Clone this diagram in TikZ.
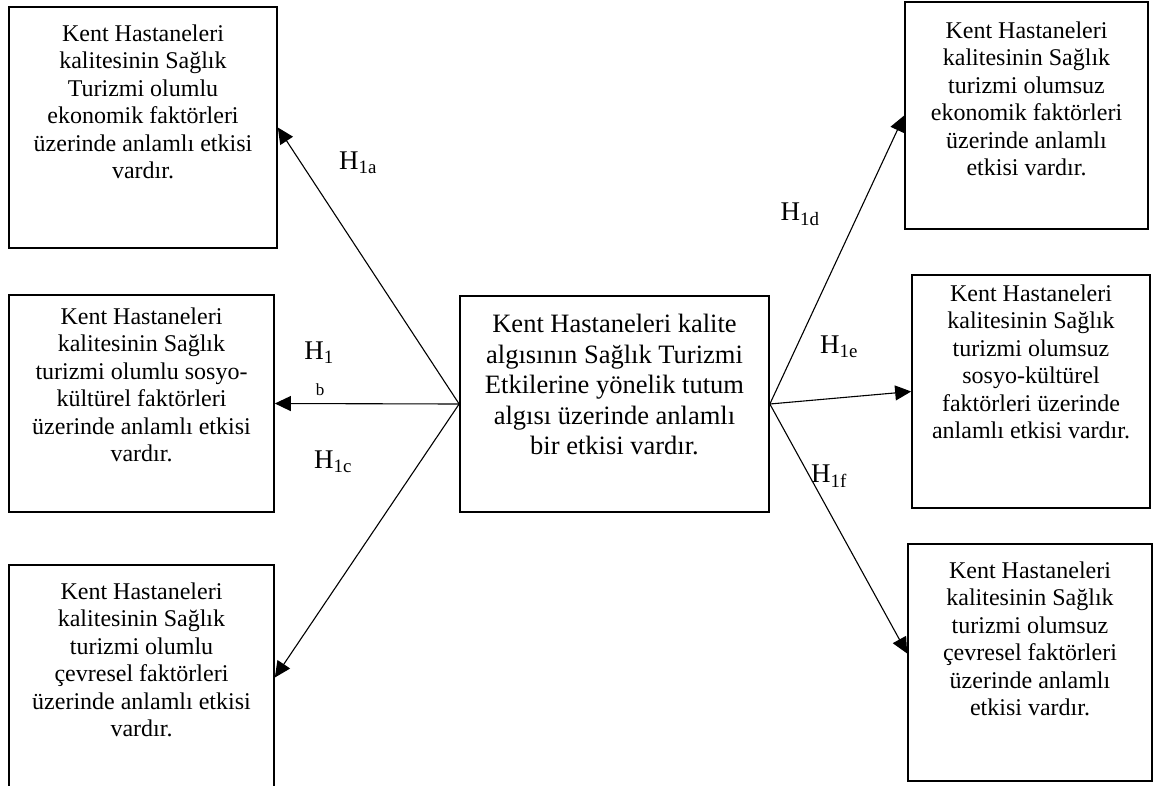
\documentclass[tikz,border=0pt]{standalone}
\usepackage{fontspec}
\setmainfont{Liberation Serif}
\usetikzlibrary{positioning, arrows.meta}

\begin{document}
\begin{tikzpicture}[
  x=1pt, y=-1pt,
  hyp/.style={draw, rectangle, line width=1.7pt, inner sep=0pt},
  txt/.style={anchor=north, align=center, inner sep=0pt,
    font=\fontsize{24}{27.5}\selectfont},
  lbl/.style={font=\fontsize{27}{30}\selectfont, inner sep=0pt},
  arr/.style={-{Triangle[length=16pt, width=15pt]}, line width=1.1pt},
]
  \useasboundingbox (0,0) rectangle (1154,785);
  \clip (0,0) rectangle (1154,785);

  % Centre: main hypothesis
  \node[hyp, minimum width=309pt, minimum height=216pt] (main) at (614.5,404) {};
  \node[txt, font=\fontsize{26.5}{30.5}\selectfont] (maintxt)
    at ([yshift=-19pt]main.north) {Kent Hastaneleri kalite \\ algısının Sağlık Turizmi \\
    Etkilerine yönelik tutum \\ algısı üzerinde anlamlı \\ bir etkisi vardır.};

  % Left column: olumlu etkiler
  \node[hyp, minimum width=268pt, minimum height=241pt] (l1) at (143,127.5) {};
  \node[txt] (l1txt) at ([yshift=-18pt]l1.north) {Kent Hastaneleri \\ kalitesinin Sağlık \\
    Turizmi olumlu \\ ekonomik faktörleri \\ üzerinde anlamlı etkisi \\ vardır.};
  \node[hyp, minimum width=265pt, minimum height=217pt] (l2) at (141.5,403.5) {};
  \node[txt] (l2txt) at ([yshift=-13pt]l2.north) {Kent Hastaneleri \\ kalitesinin Sağlık \\
    turizmi olumlu sosyo- \\ kültürel faktörleri \\ üzerinde anlamlı etkisi \\ vardır.};
  \node[hyp, minimum width=265pt, minimum height=225pt] (l3) at (141.5,677.5) {};
  \node[txt] (l3txt) at ([yshift=-18pt]l3.north) {Kent Hastaneleri \\ kalitesinin Sağlık \\
    turizmi olumlu \\ çevresel faktörleri \\ üzerinde anlamlı etkisi \\ vardır.};

  % Right column: olumsuz etkiler
  \node[hyp, minimum width=243pt, minimum height=227pt] (r1) at (1026.5,115.5) {};
  \node[txt] (r1txt) at ([yshift=-20pt]r1.north) {Kent Hastaneleri \\ kalitesinin Sağlık \\
    turizmi olumsuz \\ ekonomik faktörleri \\ üzerinde anlamlı \\ etkisi vardır.};
  \node[hyp, minimum width=238pt, minimum height=233pt] (r2) at (1031,391.5) {};
  \node[txt] (r2txt) at ([yshift=-10pt]r2.north) {Kent Hastaneleri \\ kalitesinin Sağlık \\
    turizmi olumsuz \\ sosyo-kültürel \\ faktörleri üzerinde \\ anlamlı etkisi vardır.};
  \node[hyp, minimum width=244pt, minimum height=237pt] (r3) at (1030,662.5) {};
  \node[txt] (r3txt) at ([yshift=-18pt]r3.north) {Kent Hastaneleri \\ kalitesinin Sağlık \\
    turizmi olumsuz \\ çevresel faktörleri \\ üzerinde anlamlı \\ etkisi vardır.};

  % Arrows: fan out from the centre box
  \draw[arr] (main.west) -- (l1.east);
  \draw[arr] (main.west) -- (l2.east);
  \draw[arr] (main.west) -- (l3.east);
  \draw[arr] (main.east) -- (r1.west);
  \draw[arr] (main.east) -- (r2.west);
  \draw[arr] (main.east) -- ([yshift=9pt]r3.west);

  % Hypothesis labels
  \node[lbl] (h1a) at (358,163) {H\textsubscript{1a}};
  \node[lbl] (h1b) at (319,353) {H\textsubscript{1}};
  \node[lbl, font=\fontsize{17}{19}\selectfont] (h1bb) at (320,390) {b};
  \node[lbl] (h1c) at (333,462) {H\textsubscript{1c}};
  \node[lbl] (h1d) at (800,214) {H\textsubscript{1d}};
  \node[lbl] (h1e) at (839,347) {H\textsubscript{1e}};
  \node[lbl] (h1f) at (829,476) {H\textsubscript{1f}};
\end{tikzpicture}
\end{document}
